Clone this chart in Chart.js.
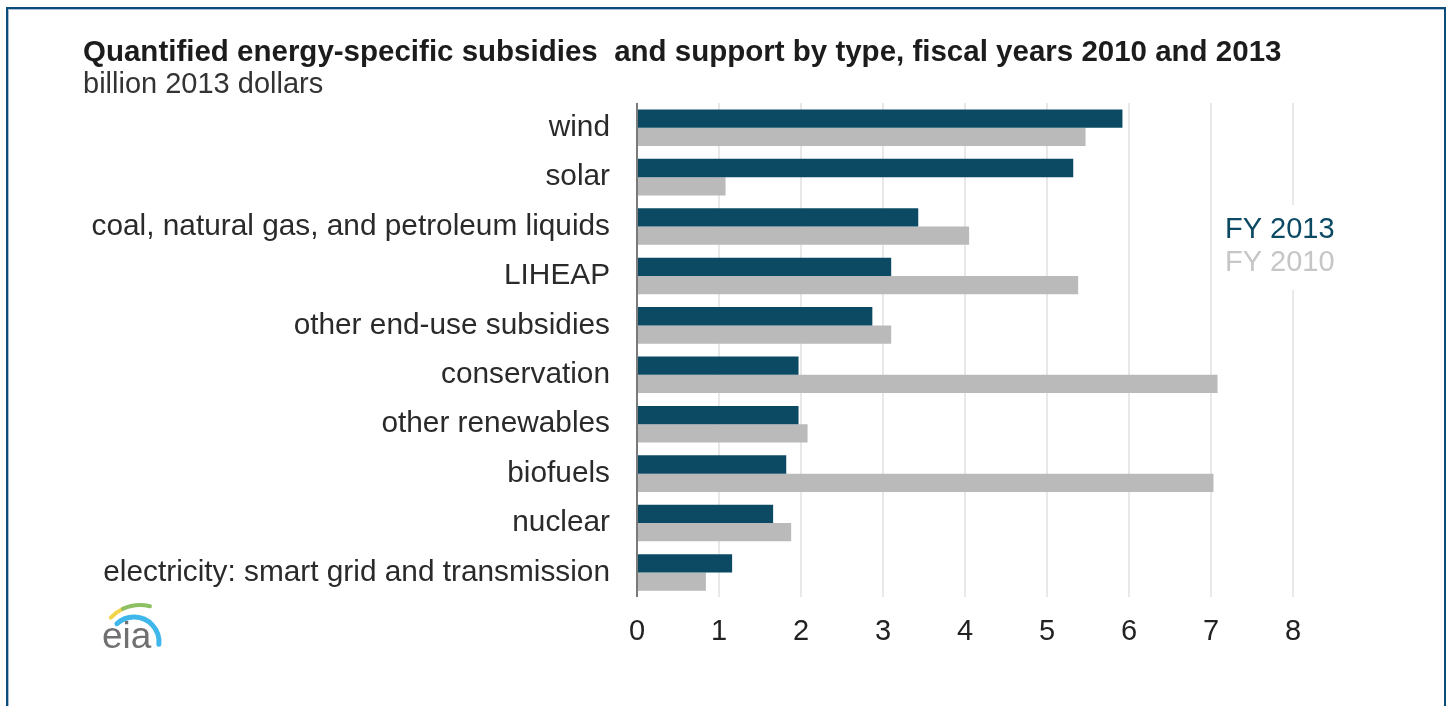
<!DOCTYPE html>
<html>
<head>
<meta charset="utf-8">
<title>Energy-specific subsidies by type</title>
<script src="https://cdn.jsdelivr.net/npm/chart.js@4.4.1/dist/chart.umd.min.js"></script>
<style>
  html, body { margin: 0; padding: 0; background: #ffffff; }
  #wrap { position: relative; width: 1449px; height: 706px; overflow: hidden; }
  #frame {
    position: absolute; left: 6px; top: 7px; width: 1440px; height: 720px;
    box-sizing: border-box; border: 2px solid #0b4d78; border-bottom: none;
    box-shadow: inset 1px 1px 0 #a9bfd1; pointer-events: none;
  }
</style>
</head>
<body>
<div id="wrap">
  <canvas id="subsidyChart" width="1449" height="706"></canvas>
  <div id="frame"></div>
</div>
<script>
// categories, top to bottom
var categories = [
  'wind',
  'solar',
  'coal, natural gas, and petroleum liquids',
  'LIHEAP',
  'other end-use subsidies',
  'conservation',
  'other renewables',
  'biofuels',
  'nuclear',
  'electricity: smart grid and transmission'
];

// billion 2013 dollars
var fy2013 = [5.92, 5.32, 3.43, 3.10, 2.87, 1.97, 1.97, 1.82, 1.66, 1.16];
var fy2010 = [5.47, 1.08, 4.05, 5.38, 3.10, 7.08, 2.08, 7.03, 1.88, 0.84];

var xTicks = [0, 1, 2, 3, 4, 5, 6, 7, 8];

var titleText = 'Quantified energy-specific subsidies  and support by type, fiscal years 2010 and 2013';
var unitText = 'billion 2013 dollars';

var FONT = "'Liberation Sans', Arial, sans-serif";
var COLOR_2013 = '#0c4a64';
var COLOR_2010 = '#bababa';

// title + units line in the top-left corner
var headerPlugin = {
  id: 'header',
  afterDraw: function (chart) {
    var ctx = chart.ctx;
    ctx.save();
    ctx.textAlign = 'left';
    ctx.textBaseline = 'middle';
    ctx.fillStyle = '#1c1c1c';
    ctx.font = 'bold 29.5px ' + FONT;
    ctx.fillText(titleText, 83, 53);
    ctx.fillStyle = '#333333';
    ctx.font = '29px ' + FONT;
    ctx.fillText(unitText, 83, 85);
    ctx.restore();
  }
};

// text-only legend sitting over the right side of the grid
var textLegendPlugin = {
  id: 'textLegend',
  afterDatasetsDraw: function (chart) {
    var ctx = chart.ctx;
    var x = 1225, y = 230;
    ctx.save();
    ctx.fillStyle = '#ffffff';
    ctx.fillRect(x - 10, y - 25, 130, 85);
    ctx.font = '29px ' + FONT;
    ctx.textAlign = 'left';
    ctx.textBaseline = 'middle';
    chart.data.datasets.forEach(function (ds, i) {
      ctx.fillStyle = ds.legendColor;
      ctx.fillText(ds.label, x, y + i * 33);
    });
    ctx.restore();
  }
};

// small eia mark under the category labels
var logoPlugin = {
  id: 'eiaLogo',
  afterDraw: function (chart) {
    var ctx = chart.ctx;
    ctx.save();
    ctx.lineCap = 'round';
    ctx.lineWidth = 4;
    ctx.strokeStyle = '#f2d44a';
    ctx.beginPath();
    ctx.arc(140, 645, 40, Math.PI * 1.24, Math.PI * 1.36);
    ctx.stroke();
    ctx.strokeStyle = '#8cc063';
    ctx.beginPath();
    ctx.arc(140, 645, 40, Math.PI * 1.36, Math.PI * 1.58);
    ctx.stroke();
    ctx.strokeStyle = '#3fb7ea';
    ctx.lineWidth = 5;
    ctx.beginPath();
    ctx.arc(134, 642, 25, Math.PI * 1.26, Math.PI * 2.03);
    ctx.stroke();
    ctx.fillStyle = '#707070';
    ctx.font = '37px ' + FONT;
    ctx.textAlign = 'left';
    ctx.textBaseline = 'alphabetic';
    ctx.fillText('eia', 102, 648);
    ctx.restore();
  }
};

document.addEventListener('DOMContentLoaded', function () {
  var ctx = document.getElementById('subsidyChart').getContext('2d');

  var myChart = new Chart(ctx, {
    type: 'bar',
    data: {
      labels: categories,
      datasets: [{
        label: 'FY 2013',
        data: fy2013,
        backgroundColor: COLOR_2013,
        legendColor: COLOR_2013,
        categoryPercentage: 0.74,
        barPercentage: 1.0
      }, {
        label: 'FY 2010',
        data: fy2010,
        backgroundColor: COLOR_2010,
        legendColor: '#c6c6c6',
        categoryPercentage: 0.74,
        barPercentage: 1.0
      }]
    },
    options: {
      indexAxis: 'y',
      responsive: false,
      animation: false,
      layout: {
        padding: { top: 103, left: 0, right: 156, bottom: 40 }
      },
      plugins: {
        legend: { display: false },
        tooltip: { enabled: false }
      },
      scales: {
        x: {
          min: 0,
          max: 8,
          afterBuildTicks: function (scale) {
            scale.ticks = xTicks.map(function (v) { return { value: v }; });
          },
          border: { display: false },
          grid: {
            drawTicks: false,
            lineWidth: 2,
            color: function (c) {
              return c.tick && c.tick.value === 0 ? '#7a7a7a' : '#e8e8e8';
            }
          },
          ticks: {
            color: '#222222',
            padding: 17,
            font: { family: FONT, size: 29 }
          }
        },
        y: {
          afterFit: function (scale) {
            scale.width = 637; // category label column
          },
          border: { display: false },
          grid: { display: false, drawTicks: false },
          ticks: {
            color: '#2a2a2a',
            padding: 27,
            font: { family: FONT, size: 29.8 }
          }
        }
      }
    },
    plugins: [headerPlugin, textLegendPlugin, logoPlugin]
  });
});
</script>
</body>
</html>
